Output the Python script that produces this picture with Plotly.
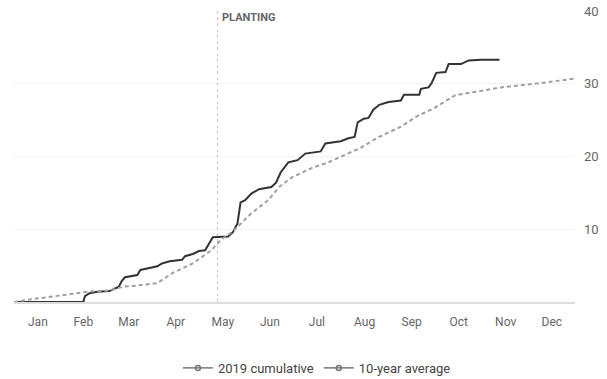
import plotly.graph_objects as go

# 2019 cumulative (black solid)
dates_2019 = ["2019-01-01", "2019-02-15", "2019-02-16", "2019-02-19", "2019-02-24", "2019-03-04",
              "2019-03-10", "2019-03-12", "2019-03-14", "2019-03-22", "2019-03-24", "2019-03-30",
              "2019-04-04", "2019-04-07", "2019-04-12", "2019-04-20", "2019-04-22", "2019-04-27",
              "2019-05-01", "2019-05-05", "2019-05-09", "2019-05-10", "2019-05-20", "2019-05-23",
              "2019-05-26", "2019-05-28", "2019-05-31", "2019-06-04", "2019-06-09", "2019-06-17",
              "2019-06-20", "2019-06-23", "2019-06-28", "2019-07-04", "2019-07-09", "2019-07-19",
              "2019-07-22", "2019-08-01", "2019-08-06", "2019-08-10", "2019-08-12", "2019-08-16",
              "2019-08-19", "2019-08-22", "2019-08-26", "2019-09-01", "2019-09-09", "2019-09-11",
              "2019-09-21", "2019-09-22", "2019-09-27", "2019-09-29", "2019-10-02", "2019-10-08",
              "2019-10-10", "2019-10-18", "2019-10-23", "2019-10-31", "2019-11-12"]
values_2019 = [0, 0, 0.8, 1.2, 1.4, 1.5,
               2.1, 2.9, 3.4, 3.7, 4.4, 4.7,
               4.9, 5.3, 5.6, 5.8, 6.3, 6.6,
               7.0, 7.1, 8.4, 8.9, 9.0, 9.6,
               10.8, 13.7, 14.0, 14.9, 15.5, 15.8,
               16.4, 17.8, 19.2, 19.5, 20.4, 20.7,
               21.8, 22.1, 22.5, 22.7, 24.7, 25.2,
               25.3, 26.4, 27.1, 27.5, 27.7, 28.5,
               28.5, 29.3, 29.5, 30.1, 31.5, 31.6,
               32.7, 32.7, 33.2, 33.3, 33.3]

# 10-year average (gray dashed)
dates_avg = ["2019-01-01", "2019-01-13", "2019-02-04", "2019-02-17", "2019-03-04", "2019-03-13",
             "2019-03-19", "2019-04-04", "2019-04-14", "2019-04-27", "2019-05-09", "2019-05-15",
             "2019-05-23", "2019-06-04", "2019-06-15", "2019-06-22", "2019-06-30", "2019-07-13",
             "2019-07-24", "2019-08-03", "2019-08-14", "2019-08-25", "2019-09-09", "2019-09-20",
             "2019-10-01", "2019-10-14", "2019-10-27", "2019-11-13", "2019-12-05", "2019-12-27",
             "2019-12-31"]
values_avg = [0, 0.4, 1.0, 1.4, 1.6, 2.1,
              2.2, 2.6, 4.0, 5.3, 7.1, 8.5,
              9.7, 12.2, 14.0, 15.8, 17.1, 18.4,
              19.2, 20.1, 21.2, 22.6, 24.1, 25.6,
              26.7, 28.4, 28.9, 29.5, 30.0, 30.6,
              30.7]

series_names = ["2019 cumulative", "10-year average"]
planting_date = "2019-05-13"
planting_label = "PLANTING"
y_ticks = [10, 20, 30, 40]

FONT = "Roboto, Lato, sans-serif"

fig = go.Figure()
fig.add_trace(go.Scatter(x=dates_2019, y=values_2019, mode="lines", showlegend=False,
                         line=dict(color="#333333", width=2), hoverinfo="skip"))
fig.add_trace(go.Scatter(x=dates_avg, y=values_avg, mode="lines", showlegend=False,
                         line=dict(color="#a0a0a0", width=2, dash="4px,3px"), hoverinfo="skip"))
# legend entries
for nm in series_names:
    fig.add_trace(go.Scatter(x=[None], y=[None], mode="lines+markers", name=nm,
                             line=dict(color="#777777", width=1.5),
                             marker=dict(symbol="circle-open", size=5, color="#777777",
                                         line=dict(width=1.5))))

fig.add_shape(type="line", x0=planting_date, x1=planting_date, xref="x",
              y0=0, y1=1.01, yref="paper",
              line=dict(color="#c8c8c8", width=1, dash="dot"))
fig.add_annotation(x=planting_date, y=1.0, xref="x", yref="paper",
                   text="<b>" + planting_label + "</b>",
                   showarrow=False, xanchor="left", yanchor="middle", xshift=3, yshift=-6,
                   font=dict(family=FONT, size=11, color="#666666"))

fig.update_layout(
    width=607, height=379,
    margin=dict(l=14, r=32, t=11, b=77, autoexpand=False),
    paper_bgcolor="white", plot_bgcolor="white",
    font=dict(family=FONT, color="#555555", size=12),
    legend=dict(orientation="h", x=0.54, xanchor="center", y=-0.175, yanchor="top",
                font=dict(size=13, color="#444444"), itemwidth=30, tracegroupgap=0),
)
fig.update_xaxes(type="date", range=["2019-01-01", "2019-12-31"], dtick="M1",
                 tick0="2019-01-01", tickformat="%b", ticklabelmode="period",
                 showgrid=False, showline=True, linecolor="#dddddd", linewidth=1.5,
                 ticks="", tickfont=dict(size=12, color="#666666"), zeroline=False,
                 automargin=False, ticklabelstandoff=8)
fig.update_yaxes(range=[0, 40], side="right", tickvals=y_ticks, showgrid=True,
                 gridcolor="#f3f3f3", zeroline=False, showline=False, ticks="",
                 tickfont=dict(size=13, color="#666666"), ticklabelstandoff=8,
                 automargin=False)

fig.write_html("out.html", config={"displayModeBar": False},
               post_script="document.body.style.margin='0';")
